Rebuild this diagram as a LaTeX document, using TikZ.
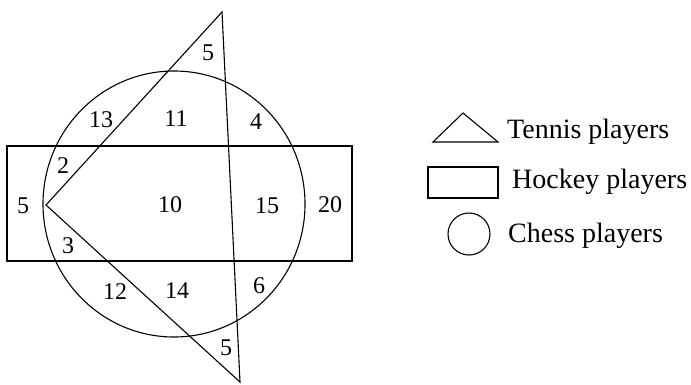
\documentclass[tikz,border=0pt]{standalone}
\usepackage{fontspec}
\setmainfont{Liberation Serif}
\usepackage{tikz}
\usetikzlibrary{positioning}
\tikzset{
  outline/.style={draw=black,line width=1.1pt},
  count/.style  ={inner sep=0pt,font=\fontsize{24}{28}\selectfont},
  legtext/.style={inner sep=0pt,anchor=base west,font=\fontsize{28}{32}\selectfont}
}

\begin{document}
\begin{tikzpicture}[x=1pt,y=-1pt]
    \useasboundingbox (0,0) rectangle (691,384);
    % the three sets
    \draw[outline] (7,146) rectangle (352,261);
    \draw[outline] (174,204) ellipse[x radius=131,y radius=133];
    \draw[outline] (222,12) -- (46,205) -- (240,382) -- cycle;
    % counts in each region
    \node[count] (ttop) at (208,53) {5};
    \node[count] (c13) at (101,120) {13};
    \node[count] (c11) at (176,119) {11};
    \node[count] (c4) at (256,122) {4};
    \node[count] (c2) at (63,166) {2};
    \node[count] (hleft) at (23,206) {5};
    \node[count] (c10) at (170,205) {10};
    \node[count] (c15) at (267,206) {15};
    \node[count] (c20) at (330,205) {20};
    \node[count] (c3) at (68,246) {3};
    \node[count] (c12) at (115,292) {12};
    \node[count] (c14) at (177,291) {14};
    \node[count] (c6) at (259,286) {6};
    \node[count] (tbot) at (226,348) {5};
    % legend
    \draw[outline] (433,142) -- (463,113) -- (498,142) -- cycle;
    \draw[outline] (428,167) rectangle (498,198);
    \draw[outline] (469,234) circle[radius=21];
    \node[legtext] (tennis) at (507,138) {Tennis players};
    \node[legtext] (hockey) at (512,188) {Hockey players};
    \node[legtext] (chess) at (508,242) {Chess players};
\end{tikzpicture}
\end{document}
